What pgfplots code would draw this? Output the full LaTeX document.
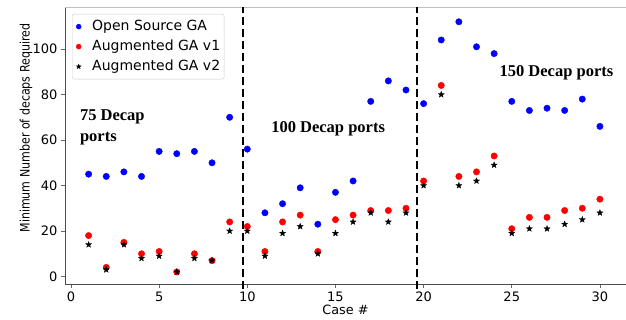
\documentclass[border=0pt]{standalone}
\usepackage{pgfplots}
\pgfplotsset{compat=1.18}
\usepackage{fontspec}
\setmainfont{DejaVu Sans}
\newfontfamily\timesfont{Liberation Serif}
\pgfdeclareplotmark{fstar}{%
  \pgfpathmoveto{\pgfpointpolar{90}{\pgfplotmarksize}}%
  \pgfpathlineto{\pgfpointpolar{126}{0.42\pgfplotmarksize}}%
  \pgfpathlineto{\pgfpointpolar{162}{\pgfplotmarksize}}%
  \pgfpathlineto{\pgfpointpolar{198}{0.42\pgfplotmarksize}}%
  \pgfpathlineto{\pgfpointpolar{234}{\pgfplotmarksize}}%
  \pgfpathlineto{\pgfpointpolar{270}{0.42\pgfplotmarksize}}%
  \pgfpathlineto{\pgfpointpolar{306}{\pgfplotmarksize}}%
  \pgfpathlineto{\pgfpointpolar{342}{0.42\pgfplotmarksize}}%
  \pgfpathlineto{\pgfpointpolar{18}{\pgfplotmarksize}}%
  \pgfpathlineto{\pgfpointpolar{54}{0.42\pgfplotmarksize}}%
  \pgfpathclose
  \pgfusepathqfillstroke}
\pgfplotstableread{
x blue red star
1 45 18 14
2 44 4 3
3 46 15 14
4 44 10 8
5 55 11 9
6 54 2 2
7 55 10 8
8 50 7 7
9 70 24 20
10 56 22 20
11 28 11 9
12 32 24 19
13 39 27 22
14 23 11 10
15 37 25 19
16 42 27 24
17 77 29 28
18 86 29 24
19 82 30 28
20 76 42 40
21 104 84 80
22 112 44 40
23 101 46 42
24 98 53 49
25 77 21 19
26 73 26 21
27 74 26 21
28 73 29 23
29 78 30 25
30 66 34 28
}\datatable
\begin{document}
\begin{tikzpicture}
\begin{axis}[
  scale only axis,
  width=561pt, height=277pt,
  xmin=-0.34, xmax=31.48,
  ymin=-3.3, ymax=118.5,
  axis lines*=left,
  xtick={0,5,...,30},
  ytick={0,20,...,100},
  tick align=outside,
  major tick length=4pt,
  tick style={black!60, line width=0.6pt},
  axis line style={black!70, line width=0.7pt},
  ticklabel style={font=\fontsize{13}{15}\selectfont},
  /pgf/number format/assume math mode=true,
  xlabel={Case \#},
  ylabel={\scalebox{0.85}[1]{Minimum Number of decaps Required}},
  xlabel style={font=\fontsize{12.8}{14}\selectfont, at={(rel axis cs:0.5,0)}, anchor=center, yshift=-26pt},
  ylabel style={font=\fontsize{13}{15}\selectfont, at={(rel axis cs:0,0.563)}, anchor=center, yshift=39pt},
  legend style={at={(rel axis cs:0.0125,0.975)}, anchor=north west, font=\fontsize{14}{16}\selectfont, draw=black!20, rounded corners=2pt, row sep=5pt, column sep=11pt, inner xsep=4pt, inner ysep=5pt, nodes={inner xsep=0pt, inner ysep=0pt, text height=11pt, text depth=4pt}},
  legend cell align=left,
  clip=false,
]
\draw[black!25, line width=0.8pt] (rel axis cs:0,1) -- (rel axis cs:1,1);
\addplot[only marks, mark=*, mark size=3.2pt, blue, mark options={fill=blue, draw=blue},
  legend image code/.code={\draw[mark repeat=2,mark phase=2,mark size=2.5pt] plot coordinates {(0pt,0pt) (13pt,0pt) (26pt,0pt)};}] table[x=x, y=blue] {\datatable};
\addlegendentry{Open Source GA}
\addplot[only marks, mark=*, mark size=3.2pt, red, mark options={fill=red, draw=red},
  legend image code/.code={\draw[mark repeat=2,mark phase=2,mark size=2.5pt] plot coordinates {(0pt,0pt) (13pt,0pt) (26pt,0pt)};}] table[x=x, y=red] {\datatable};
\addlegendentry{Augmented GA v1}
\addplot[only marks, mark=fstar, mark size=3.2pt, black, mark options={fill=black, line width=0.3pt},
  legend image code/.code={\draw[mark repeat=2,mark phase=2,mark size=2.5pt] plot coordinates {(0pt,0pt) (13pt,0pt) (26pt,0pt)};}] table[x=x, y=star] {\datatable};
\addlegendentry{Augmented GA v2}
\draw[black, line width=1.8pt, dash pattern=on 8pt off 4pt] (axis cs:9.75,-5.5) -- (axis cs:9.75,118.5);
\draw[black, line width=1.8pt, dash pattern=on 8pt off 4pt] (axis cs:19.63,-5.5) -- (axis cs:19.63,118.5);
\node[anchor=north west, align=left, inner sep=0pt, font=\timesfont\bfseries\fontsize{16.5}{21}\selectfont] at (axis cs:0.5,73.5) {75 Decap\\ports};
\node[anchor=west, inner sep=0pt, font=\timesfont\bfseries\fontsize{16.5}{20}\selectfont] at (axis cs:11.35,65) {100 Decap ports};
\node[anchor=west, inner sep=0pt, font=\timesfont\bfseries\fontsize{16.5}{20}\selectfont] at (axis cs:24.3,89.5) {150 Decap ports};
\end{axis}
\pgfresetboundingbox
\useasboundingbox (-65pt,-36pt) rectangle (561pt,284pt);
\end{tikzpicture}
\end{document}
